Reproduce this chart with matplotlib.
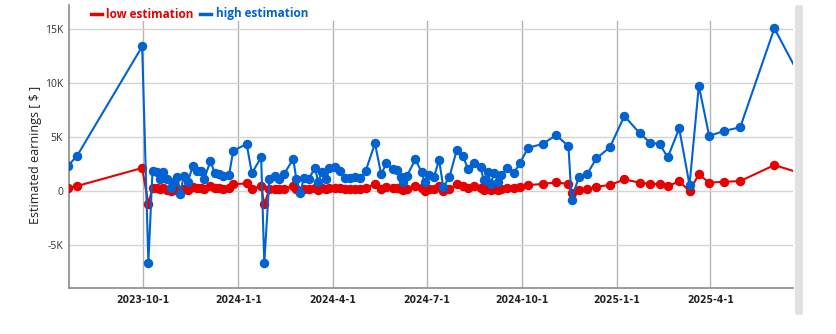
import matplotlib

matplotlib.use("Agg")

import matplotlib.pyplot as plt
import pandas as pd
from matplotlib.lines import Line2D
from matplotlib.patches import FancyBboxPatch

DATES = [
    "2023-07-20", "2023-07-29", "2023-09-30", "2023-10-06", "2023-10-10", "2023-10-14",
    "2023-10-17", "2023-10-20", "2023-10-24", "2023-10-28", "2023-10-31", "2023-11-03",
    "2023-11-06", "2023-11-09", "2023-11-13", "2023-11-18", "2023-11-22", "2023-11-26",
    "2023-11-29", "2023-12-05", "2023-12-09", "2023-12-13", "2023-12-17", "2023-12-23",
    "2023-12-27", "2024-01-09", "2024-01-14", "2024-01-23", "2024-01-26", "2024-01-31",
    "2024-02-05", "2024-02-09", "2024-02-14", "2024-02-23", "2024-02-26", "2024-03-01",
    "2024-03-04", "2024-03-09", "2024-03-15", "2024-03-18", "2024-03-22", "2024-03-26",
    "2024-03-29", "2024-04-03", "2024-04-08", "2024-04-13", "2024-04-18", "2024-04-23",
    "2024-04-28", "2024-05-03", "2024-05-12", "2024-05-18", "2024-05-23", "2024-05-29",
    "2024-06-02", "2024-06-06", "2024-06-08", "2024-06-12", "2024-06-20", "2024-06-26",
    "2024-06-29", "2024-07-03", "2024-07-08", "2024-07-13", "2024-07-17", "2024-07-23",
    "2024-07-30", "2024-08-05", "2024-08-10", "2024-08-16", "2024-08-22", "2024-08-25",
    "2024-08-29", "2024-09-01", "2024-09-04", "2024-09-08", "2024-09-11", "2024-09-17",
    "2024-09-23", "2024-09-29", "2024-10-07", "2024-10-21", "2024-11-03", "2024-11-15",
    "2024-11-18", "2024-11-25", "2024-12-03", "2024-12-12", "2024-12-25", "2025-01-08",
    "2025-01-23", "2025-02-02", "2025-02-11", "2025-02-19", "2025-03-02", "2025-03-12",
    "2025-03-21", "2025-03-31", "2025-04-14", "2025-04-30", "2025-06-02", "2025-07-01",
]

# thousands of $
HIGH = [
    2.34, 3.27, 13.41, -6.61, 1.91, 1.82,
    1.17, 1.79, 1.17, 0.31, 0.86, 1.30,
    -0.25, 1.42, 0.86, 2.34, 1.91, 1.85,
    1.17, 2.81, 1.72, 1.60, 1.42, 1.51,
    3.76, 4.38, 1.67, 3.15, -6.67, 1.17,
    1.44, 1.14, 1.57, 3.00, 1.14, -0.19,
    1.20, 1.14, 2.19, 0.90, 1.80, 1.14,
    2.13, 2.25, 1.85, 1.26, 1.26, 1.35,
    1.20, 1.88, 4.44, 1.57, 2.60, 2.06,
    1.97, 1.35, 0.90, 1.44, 2.96, 1.80,
    0.83, 1.50, 1.35, 2.90, 0.37, 1.35,
    3.82, 3.27, 2.04, 2.65, 2.28, 1.05,
    1.76, 0.68, 1.67, 0.90, 1.50, 2.13,
    1.67, 2.60, 4.04, 4.38, 5.20, 4.19,
    -0.77, 1.35, 1.60, 3.05, 4.07, 6.97,
    5.37, 4.50, 4.38, 3.15, 5.83, 0.58,
    9.78, 5.12, 5.58, 5.93, 15.09, 9.85,
]

LOW = [
    0.33, 0.49, 2.16, -1.18, 0.30, 0.28,
    0.20, 0.28, 0.15, 0.05, 0.12, 0.22,
    0.02, 0.25, 0.15, 0.40, 0.32, 0.30,
    0.18, 0.45, 0.30, 0.28, 0.25, 0.28,
    0.65, 0.74, 0.22, 0.50, -1.20, 0.20,
    0.25, 0.20, 0.25, 0.50, 0.20, 0.05,
    0.20, 0.20, 0.35, 0.15, 0.30, 0.20,
    0.35, 0.35, 0.30, 0.22, 0.22, 0.23,
    0.20, 0.30, 0.70, 0.25, 0.42, 0.33,
    0.32, 0.22, 0.15, 0.23, 0.52, 0.30,
    0.03, 0.25, 0.22, 0.48, 0.00, 0.22,
    0.65, 0.52, 0.33, 0.45, 0.35, 0.15,
    0.28, 0.10, 0.27, 0.15, 0.25, 0.35,
    0.30, 0.37, 0.58, 0.68, 0.83, 0.68,
    -0.16, 0.12, 0.21, 0.43, 0.58, 1.10,
    0.80, 0.68, 0.68, 0.48, 0.92, 0.03,
    1.57, 0.80, 0.88, 0.95, 2.43, 1.57,
]

X_TICKS = ["2023-10-01", "2024-01-01", "2024-04-01", "2024-07-01", "2024-10-01", "2025-01-01", "2025-04-01"]
X_TICK_LABELS = ["2023-10-1", "2024-1-1", "2024-4-1", "2024-7-1", "2024-10-1", "2025-1-1", "2025-4-1"]
Y_TICKS = [-5, 0, 5, 10, 15]
Y_TICK_LABELS = ["-5K", "0", "5K", "10K", "15K"]

RED = "#e60000"
BLUE = "#0063d1"
W, H = 837, 334


def fx(px):
    return px / W


def fy(py):
    return (H - py) / H


fig = plt.figure(figsize=(W / 100, H / 100), dpi=100)
ax = fig.add_axes([fx(68.7), fy(288), fx(793) - fx(68.7), fy(5) - fy(288)])

dates = pd.to_datetime(DATES)
ax.plot(dates, LOW, color=RED, lw=1.5, marker="o", ms=5.8, zorder=3)
ax.plot(dates, HIGH, color=BLUE, lw=1.5, marker="o", ms=5.8, zorder=4)

ax.set_xlim(pd.Timestamp("2023-07-21"), pd.Timestamp("2025-06-20"))
ax.set_ylim(-8.95, 17.25)

ax.set_yticks(Y_TICKS)
ax.set_yticklabels(Y_TICK_LABELS, fontsize=7.5, color="#333333", family=["Open Sans", "DejaVu Sans"])
ax.set_xticks(pd.to_datetime(X_TICKS))
ax.set_xticklabels(X_TICK_LABELS, fontsize=7.5, color="#222222", fontstretch="condensed",
                   fontweight="semibold", family=["DejaVu Sans"])
ax.tick_params(axis="both", length=0)
ax.tick_params(axis="x", pad=5)
ax.tick_params(axis="y", pad=4)

ax.grid(axis="y", color="#d4d4d4", lw=1)
for t in pd.to_datetime(X_TICKS):
    ax.axvline(t, ymin=0, ymax=0.943, color="#b4b4b4", lw=1, zorder=0)
ax.set_axisbelow(True)

for side in ["top", "right"]:
    ax.spines[side].set_visible(False)
for side in ["left", "bottom"]:
    ax.spines[side].set_color("#8a8a8a")
    ax.spines[side].set_linewidth(1.2)

ax.set_ylabel("Estimated earnings [ $ ]", fontsize=9, color="#222222", family=["Open Sans", "DejaVu Sans"])
ax.yaxis.set_label_coords(-0.037, 0.47)

# legend drawn by hand at the top
fig.add_artist(Line2D([fx(91.5), fx(102.5)], [fy(14), fy(14)], color=RED, lw=2.5))
fig.text(fx(106.5), fy(14), "low estimation", color=RED, fontsize=8.5, fontweight="bold",
         va="center", ha="left", family=["Open Sans", "DejaVu Sans"])
fig.add_artist(Line2D([fx(200.5), fx(211.5)], [fy(14), fy(14)], color=BLUE, lw=2.5))
fig.text(fx(215.5), fy(14), "high estimation", color=BLUE, fontsize=8.5, fontweight="bold",
         va="center", ha="left", family=["Open Sans", "DejaVu Sans"])

# scrollbar at the right edge
fig.add_artist(FancyBboxPatch((fx(795), fy(315)), fx(8), fy(5) - fy(315),
                              boxstyle="round,pad=0,rounding_size=0.005",
                              transform=fig.transFigure, facecolor="#e1e1e1", edgecolor="none"))

fig.savefig("out.png", dpi=100)
plt.close(fig)
